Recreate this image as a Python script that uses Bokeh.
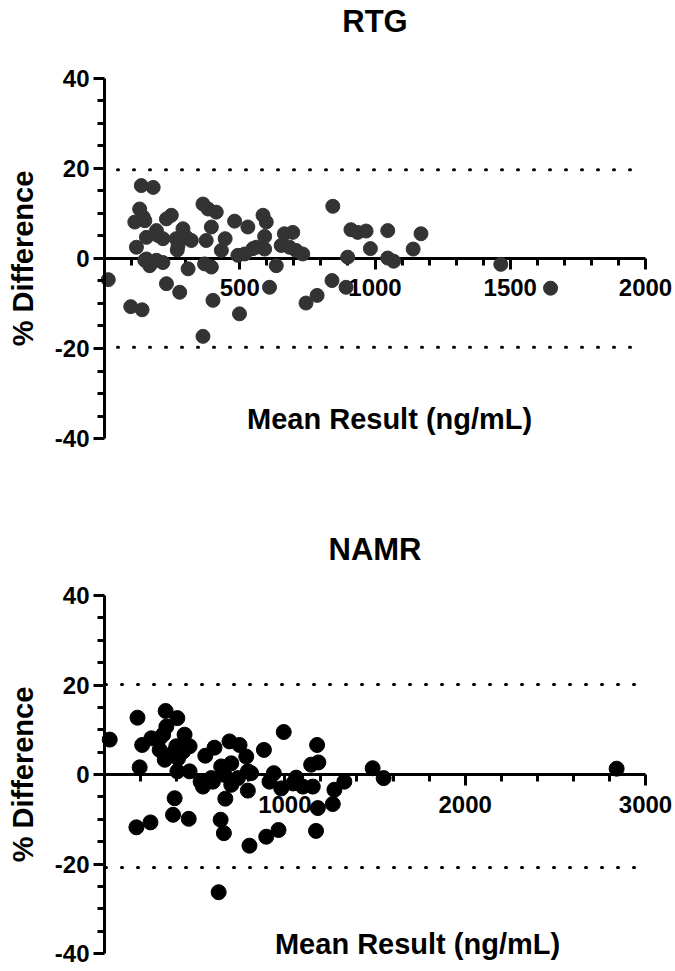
import math
from bokeh.plotting import figure
from bokeh.layouts import column
from bokeh.models import FixedTicker, Label, PrintfTickFormatter
from bokeh.embed import file_html
from bokeh.resources import INLINE

# ---- RTG (top panel) ----
rtg_mean = [14, 136, 180, 130, 112, 149, 155, 118, 192, 216, 229, 247, 167, 155, 149, 192,
            216, 229, 278, 97, 139, 272, 290, 265, 321, 303, 309, 364, 383, 413, 395, 376,
            370, 395, 401, 364, 432, 446, 481, 530, 493, 518, 549, 561, 499, 143, 198, 269,
            586, 598, 592, 592, 635, 610, 665, 696, 653, 684, 708, 733, 844, 911, 936, 967,
            983, 899, 1047, 1047, 1069, 1141, 1170, 1465, 1649, 745, 786, 841, 893]
rtg_diff = [-4.7, 16.2, 15.8, 11.0, 8.1, 8.4, 4.7, 2.5, 6.2, 4.4, 8.8, 9.6, -1.6, -0.1, -0.4, -0.4,
            -0.9, -5.6, -7.5, -10.7, -11.4, 2.9, 6.6, 4.4, 4.0, 4.7, -2.3, 12.1, 11.0, 10.3, 7.0, 4.0,
            -1.2, -1.9, -9.3, -17.3, 1.8, 4.4, 8.3, 7.0, 0.7, 1.0, 2.2, 2.5, -12.3, 9.2, 5.1, 1.9,
            9.6, 8.1, 4.9, 2.1, -1.6, -6.4, 5.5, 5.8, 2.9, 2.5, 1.8, 1.0, 11.6, 6.4, 5.8, 6.1,
            2.2, 0.3, 6.2, 0.1, -0.6, 2.1, 5.5, -1.3, -6.6, -9.9, -8.2, -4.9, -6.4]
rtg_limits = [19.7, -19.7]
rtg_xticks = [500, 1000, 1500, 2000]
rtg_xminor = [100, 200, 300, 400, 600, 700, 800, 900, 1100, 1200, 1300, 1400,
              1600, 1700, 1800, 1900]
rtg_xmax = 2000

# ---- NAMR (bottom panel) ----
namr_mean = [29, 183, 195, 209, 260, 339, 404, 343, 325, 306, 334, 444, 398, 472, 435, 408,
             404, 472, 533, 546, 559, 610, 601, 647, 703, 693, 749, 786, 740, 703, 666, 795,
             795, 670, 389, 380, 467, 177, 255, 644, 662, 804, 633, 380, 306, 592,
             994, 884, 813, 939, 915, 980, 1063, 1100, 1155, 1146, 1186, 1179, 1183, 1173,
             965, 897, 1266, 1275, 1330, 1487, 1548, 1046, 2840]
namr_diff = [7.8, 12.7, 1.6, 6.6, 8.1, 14.2, 12.6, 10.7, 8.9, 5.5, 3.3, 8.9, 6.3, 6.3, 5.1, 3.6,
             0.7, 0.7, -1.6, -2.7, 4.2, 6.0, -1.6, 1.8, 2.5, 7.4, 6.6, 4.0, -0.8, -2.3, -0.1, 0.7,
             -3.6, -5.4, -5.3, -9.0, -9.9, -11.8, -10.7, -10.1, -13.1, -15.9, -26.3, 4.8, 8.1, -0.8,
             9.5, 5.5, 0.3, 0.3, -1.6, -3.1, -0.7, -2.7, -2.7, 2.2, 2.7, 6.6, -7.5, -12.6,
             -12.4, -13.9, -6.6, -3.4, -1.6, 1.4, -0.8, -2.0, 1.3]
namr_limits = [20.1, -20.8]
namr_xticks = [1000, 2000, 3000]
namr_xminor = [200, 400, 600, 800, 1200, 1400, 1600, 1800, 2200, 2400, 2600, 2800]
namr_xmax = 3000

y_ticks = [-40, -20, 0, 20, 40]
y_minor = [v for v in range(-40, 41, 5) if v % 20 != 0]
y_label = "% Difference"
x_label = "Mean Result (ng/mL)"

FONT = "Liberation Sans"


def make_panel(title, xs, ys, xmax, xview, xticks, xminor, limits, color, msize, height,
               yview, title_y, xlab_x, xlab_y, ylab_x, dash_offset):
    p = figure(width=675, height=height, x_range=xview, y_range=yview,
               output_backend="svg", toolbar_location=None,
               min_border_left=0, min_border_right=0,
               min_border_top=0, min_border_bottom=0)
    p.xgrid.visible = False
    p.ygrid.visible = False
    p.outline_line_color = None
    p.background_fill_color = "white"
    p.border_fill_color = "white"

    for lim in limits:
        p.line([0, xmax], [lim, lim], line_color="black", line_width=3,
               line_dash="1 15", line_dash_offset=dash_offset, line_cap="round")

    p.scatter(xs, ys, size=msize, fill_color=color, line_color=color, marker="circle")

    for ax in (p.xaxis[0], p.yaxis[0]):
        ax.fixed_location = 0
        ax.axis_line_width = 3
        ax.axis_line_color = "black"
        ax.major_tick_line_width = 3
        ax.minor_tick_line_width = 3
        ax.major_tick_in = 0
        ax.minor_tick_in = 0
        ax.major_tick_out = 11
        ax.minor_tick_out = 7
        ax.major_label_text_font = FONT
        ax.major_label_text_font_style = "bold"
        ax.major_label_text_font_size = "24px"
        ax.major_label_text_color = "black"
        ax.formatter = PrintfTickFormatter(format="%d")

    xa = p.xaxis[0]
    xa.bounds = (0, xmax)
    xa.ticker = FixedTicker(ticks=xticks, minor_ticks=xminor)
    xa.major_label_standoff = 10
    xa.level = "underlay"

    ya = p.yaxis[0]
    ya.bounds = (-40, 40)
    ya.ticker = FixedTicker(ticks=y_ticks, minor_ticks=y_minor)
    ya.major_label_standoff = 4

    p.add_layout(Label(x=ylab_x, y=0, text=y_label, angle=math.pi / 2,
                       text_align="center", text_baseline="middle", text_font=FONT,
                       text_font_style="bold", text_font_size="29px",
                       text_color="black"))
    p.add_layout(Label(x=xmax / 2, y=title_y, text=title, text_align="center",
                       text_baseline="alphabetic", text_font=FONT,
                       text_font_style="bold", text_font_size="31px",
                       text_color="black"))
    p.add_layout(Label(x=xlab_x, y=xlab_y, text=x_label, text_align="center",
                       text_baseline="alphabetic", text_font=FONT,
                       text_font_style="bold", text_font_size="29px",
                       text_color="black"))
    return p


top = make_panel("RTG", rtg_mean, rtg_diff, rtg_xmax, (-384.5, 2110.9), rtg_xticks, rtg_xminor,
                 rtg_limits, "#333333", 14, 488, (-51.11, 57.33), 52.6, 1054, -35.57, -300, 3)
bottom = make_panel("NAMR", namr_mean, namr_diff, namr_xmax, (-576.7, 3166.4), namr_xticks,
                    namr_xminor, namr_limits, "#000000", 15, 483, (-44.02, 63.91), 50.28,
                    1736, -37.89, -450, 15)

layout = column(top, bottom)
open("out.html", "w").write(file_html(layout, INLINE))
